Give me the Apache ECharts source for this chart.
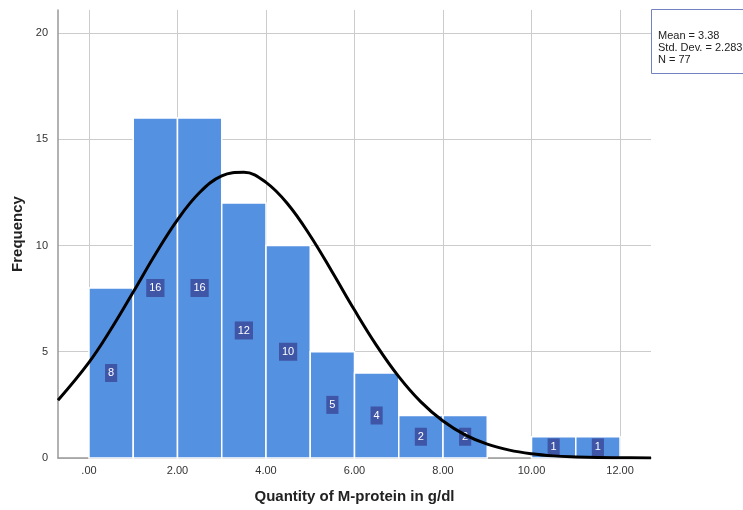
<!DOCTYPE html>
<html>
<head>
<meta charset="utf-8">
<script src="https://cdn.jsdelivr.net/npm/echarts@6/dist/echarts.min.js"></script>
<style>html,body{margin:0;padding:0;background:#fff;}#c{width:743px;height:510px;}</style>
</head>
<body>
<div id="c"></div>
<script>
// Histogram bins (g/dl) and frequencies
const binStart = [0, 1, 2, 3, 4, 5, 6, 7, 8, 9, 10, 11];
const binEnd   = [1, 2, 3, 4, 5, 6, 7, 8, 9, 10, 11, 12];
const counts   = [8, 16, 16, 12, 10, 5, 4, 2, 2, 0, 1, 1];
// Normal curve
const curveX = [-0.7, 0, 0.5, 1, 1.5, 2, 2.5, 3, 3.5, 4, 4.5, 5, 5.5, 6, 6.5, 7, 7.5, 8, 8.5, 9, 9.5, 10, 10.5, 11, 11.5, 12, 12.7];
const curveY = [2.72, 4.50, 6.07, 7.81, 9.59, 11.21, 12.49, 13.27, 13.44, 12.97, 11.93, 10.46, 8.74, 6.96, 5.29, 3.83, 2.64, 1.74, 1.09, 0.65, 0.37, 0.20, 0.10, 0.05, 0.02, 0.01, 0.0];
// Tick labels
const xTickValues = [0, 2, 4, 6, 8, 10, 12];
const xTickLabels = ['.00', '2.00', '4.00', '6.00', '8.00', '10.00', '12.00'];
const yTickValues = [0, 5, 10, 15, 20];
const statLines = ['Mean = 3.38', 'Std. Dev. = 2.283', 'N = 77'];

const barData = [];
for (let i = 0; i < counts.length; i++) {
  if (counts[i] > 0) barData.push([binStart[i], binEnd[i], counts[i]]);
}
const curveData = curveX.map((x, i) => [x, curveY[i]]);
const FONT = 'Liberation Sans, Arial, sans-serif';

const chart = echarts.init(document.getElementById('c'), null, {renderer: 'canvas'});
chart.setOption({
  animation: false,
  backgroundColor: '#fff',
  grid: {left: 58, right: 92, top: 10, bottom: 52, containLabel: false},
  xAxis: {
    type: 'value', min: -0.7, max: 12.7,
    name: 'Quantity of M-protein in g/dl', nameLocation: 'middle', nameGap: 31,
    nameTextStyle: {fontFamily: FONT, fontSize: 15, fontWeight: 'bold', color: '#222'},
    axisLine: {show: true, onZero: false, lineStyle: {color: '#999', width: 1.5}},
    axisTick: {show: false, customValues: xTickValues},
    axisLabel: {customValues: xTickValues, margin: 7, fontFamily: FONT, fontSize: 11, color: '#333',
      formatter: v => xTickLabels[xTickValues.indexOf(Math.round(v))] || ''},
    splitLine: {show: true, lineStyle: {color: '#ccc', width: 1}}
  },
  yAxis: {
    type: 'value', min: 0, max: 21.08,
    name: 'Frequency', nameLocation: 'middle', nameGap: 33,
    nameTextStyle: {fontFamily: FONT, fontSize: 15, fontWeight: 'bold', color: '#222'},
    axisLine: {show: true, onZero: false, lineStyle: {color: '#999', width: 1.5}},
    axisTick: {show: false, customValues: yTickValues},
    axisLabel: {customValues: yTickValues, margin: 10, fontFamily: FONT, fontSize: 11, color: '#333'},
    splitLine: {show: true, lineStyle: {color: '#ccc', width: 1}}
  },
  series: [
    {
      type: 'custom', z: 2,
      data: barData,
      encode: {x: [0, 1], y: 2},
      renderItem: function (params, api) {
        const lo = api.value(0), hi = api.value(1), n = api.value(2);
        const p0 = api.coord([lo, 0]);
        const p1 = api.coord([hi, n]);
        const cx = (p0[0] + p1[0]) / 2, cy = (p0[1] + p1[1]) / 2;
        return {
          type: 'group',
          children: [
            {type: 'rect', shape: {x: p0[0], y: p1[1], width: p1[0] - p0[0], height: p0[1] - p1[1]},
             style: {fill: '#5591e1', stroke: '#fff', lineWidth: 1.5}},
            {type: 'text', x: cx, y: cy,
             style: {text: String(n), fill: '#fff', font: '11px ' + FONT, align: 'center', verticalAlign: 'middle',
                     backgroundColor: '#3f55a6', padding: [4, 3, 3, 3]}}
          ]
        };
      }
    },
    {
      type: 'line', z: 5, data: curveData, smooth: 0.4, symbol: 'none', clip: true,
      lineStyle: {color: '#000', width: 3}
    }
  ],
  graphic: [
    {type: 'rect', left: 651, top: 9, z: 10,
     shape: {x: 0, y: 0, width: 110, height: 64},
     style: {fill: '#fff', stroke: '#7383c2', lineWidth: 1}},
    {type: 'text', left: 658, top: 30, z: 11,
     style: {text: statLines.join('\n'), font: '11px ' + FONT, fill: '#222', lineHeight: 12}}
  ]
});
</script>
</body>
</html>
